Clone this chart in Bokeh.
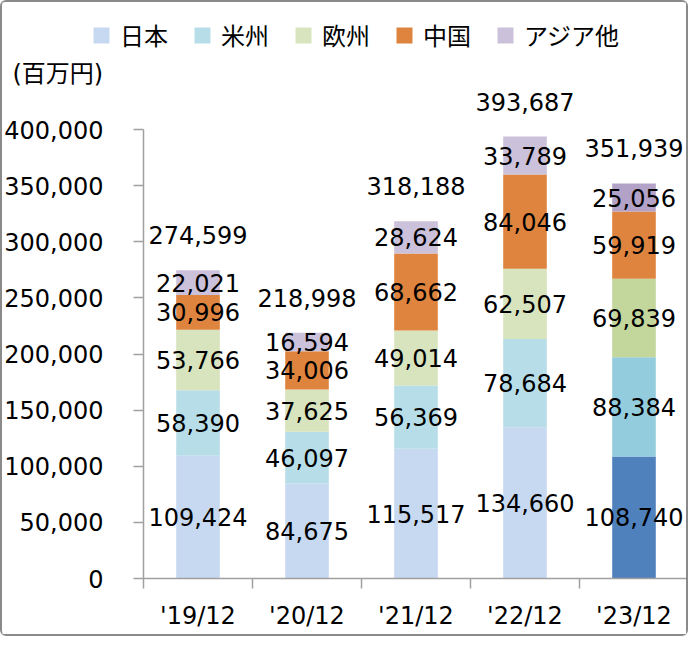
from bokeh.plotting import figure
from bokeh.models import (ColumnDataSource, FixedTicker, NumeralTickFormatter,
                          Legend, LegendItem, Label, Range1d)
from bokeh.core.properties import value
from bokeh.embed import file_html
from bokeh.resources import INLINE

# ---- data ----
periods = ["'19/12", "'20/12", "'21/12", "'22/12", "'23/12"]
regions = ["日本", "米州", "欧州", "中国", "アジア他"]
japan = [109424, 84675, 115517, 134660, 108740]
americas = [58390, 46097, 56369, 78684, 88384]
europe = [53766, 37625, 49014, 62507, 69839]
china = [30996, 34006, 68662, 84046, 59919]
asia_other = [22021, 16594, 28624, 33789, 25056]
totals = [274599, 218998, 318188, 393687, 351939]
y_ticks = [0, 50000, 100000, 150000, 200000, 250000, 300000, 350000, 400000]
unit_label = "(百万円)"

series = [japan, americas, europe, china, asia_other]
light_colors = ["#c6d9f1", "#b7dee8", "#d7e4bd", "#df843e", "#ccc1da"]
dark_colors = ["#4f81bd", "#93cddd", "#c3d69b", "#df843e", "#b3a2c7"]

NUM_FONT = "DejaVu Sans, Noto Sans CJK JP"
JP_FONT = "Noto Sans CJK JP"
FS = "24px"

n = len(periods)
xs = [i + 0.5 for i in range(n)]

W, H = 688, 636
AX_X, AX_RIGHT = 141, 686          # screen px of x=0 and x=n
AX_Y0, AX_Y400 = 576, 127          # screen px of y=0 and y=400000
ux = (AX_RIGHT - AX_X) / n         # px per category
uy = (AX_Y0 - AX_Y400) / 400000.0  # px per unit value
x_rng = Range1d(-AX_X / ux, (W - AX_X) / ux)
y_rng = Range1d(-(H - AX_Y0) / uy, AX_Y0 / uy)

p = figure(width=W, height=H, output_backend="svg", toolbar_location=None,
           x_range=x_rng, y_range=y_rng, title=None,
           min_border_left=0, min_border_right=0, min_border_top=0,
           min_border_bottom=0)
p.styles = {"border": "2px solid #8a8a8a", "border-radius": "6px"}
p.outline_line_color = None
p.xgrid.visible = False
p.ygrid.visible = False
p.background_fill_color = "white"
p.border_fill_color = "white"

bottoms = [0] * n
legend_items = []
for k, vals in enumerate(series):
    cols = [light_colors[k]] * (n - 1) + [dark_colors[k]]
    tops = [b + v for b, v in zip(bottoms, vals)]
    src = ColumnDataSource(dict(x=xs, bottom=bottoms, top=tops, color=cols,
                                mid=[(b + t) / 2 for b, t in zip(bottoms, tops)],
                                label=[f"{v:,}" for v in vals]))
    r = p.vbar(x="x", bottom="bottom", top="top", width=0.4, fill_color="color",
               line_color=None, source=src)
    p.text(x="x", y="mid", text="label", source=src, text_font=value(NUM_FONT),
           text_font_size=FS, text_align="center", text_baseline="middle",
           text_color="black")
    legend_items.append(LegendItem(label=regions[k], renderers=[r], index=0))
    bottoms = tops

tsrc = ColumnDataSource(dict(x=xs, y=totals, label=[f"{v:,}" for v in totals]))
p.text(x="x", y="y", text="label", source=tsrc, text_font=value(NUM_FONT),
       text_font_size=FS, text_align="center", text_baseline="middle",
       y_offset=-35, text_color="black")

# axes (fixed inside the frame)
AX = "#a0a0a0"
yax = p.yaxis[0]
yax.fixed_location = 0
yax.ticker = FixedTicker(ticks=y_ticks, minor_ticks=[])
yax.formatter = NumeralTickFormatter(format="0,0")
yax.bounds = (0, 400000)
yax.axis_line_color = AX
yax.axis_line_width = 1.5
yax.major_tick_line_color = AX
yax.major_tick_line_width = 1.5
yax.major_tick_out = 10
yax.major_tick_in = 0
yax.minor_tick_out = 0
yax.minor_tick_in = 0
yax.major_label_text_font = NUM_FONT
yax.major_label_text_font_size = FS
yax.major_label_text_color = "black"
yax.major_label_standoff = 30

xax = p.xaxis[0]
xax.fixed_location = 0
xax.ticker = FixedTicker(ticks=xs, minor_ticks=list(range(n + 1)))
xax.major_label_overrides = {x: lab for x, lab in zip(xs, periods)}
xax.bounds = (0, n)
xax.axis_line_color = AX
xax.axis_line_width = 1.5
xax.major_tick_out = 0
xax.major_tick_in = 0
xax.minor_tick_line_color = AX
xax.minor_tick_line_width = 1.5
xax.minor_tick_out = 10
xax.minor_tick_in = 0
xax.major_label_text_font = NUM_FONT
xax.major_label_text_font_size = FS
xax.major_label_text_color = "black"
xax.major_label_standoff = 13

legend = Legend(items=legend_items, orientation="horizontal",
                location=(89, H - 50),
                glyph_width=20, glyph_height=20, label_standoff=9, spacing=24,
                padding=0, margin=0, border_line_color=None,
                background_fill_alpha=0,
                label_text_font=JP_FONT, label_text_font_size=FS,
                label_text_color="black")
p.add_layout(legend)

p.add_layout(Label(x=10, y=H - 71, x_units="screen", y_units="screen",
                   text=unit_label, text_font=NUM_FONT, text_font_size=FS,
                   text_baseline="middle", text_color="black"))

open("out.html", "w").write(file_html(p, INLINE))
